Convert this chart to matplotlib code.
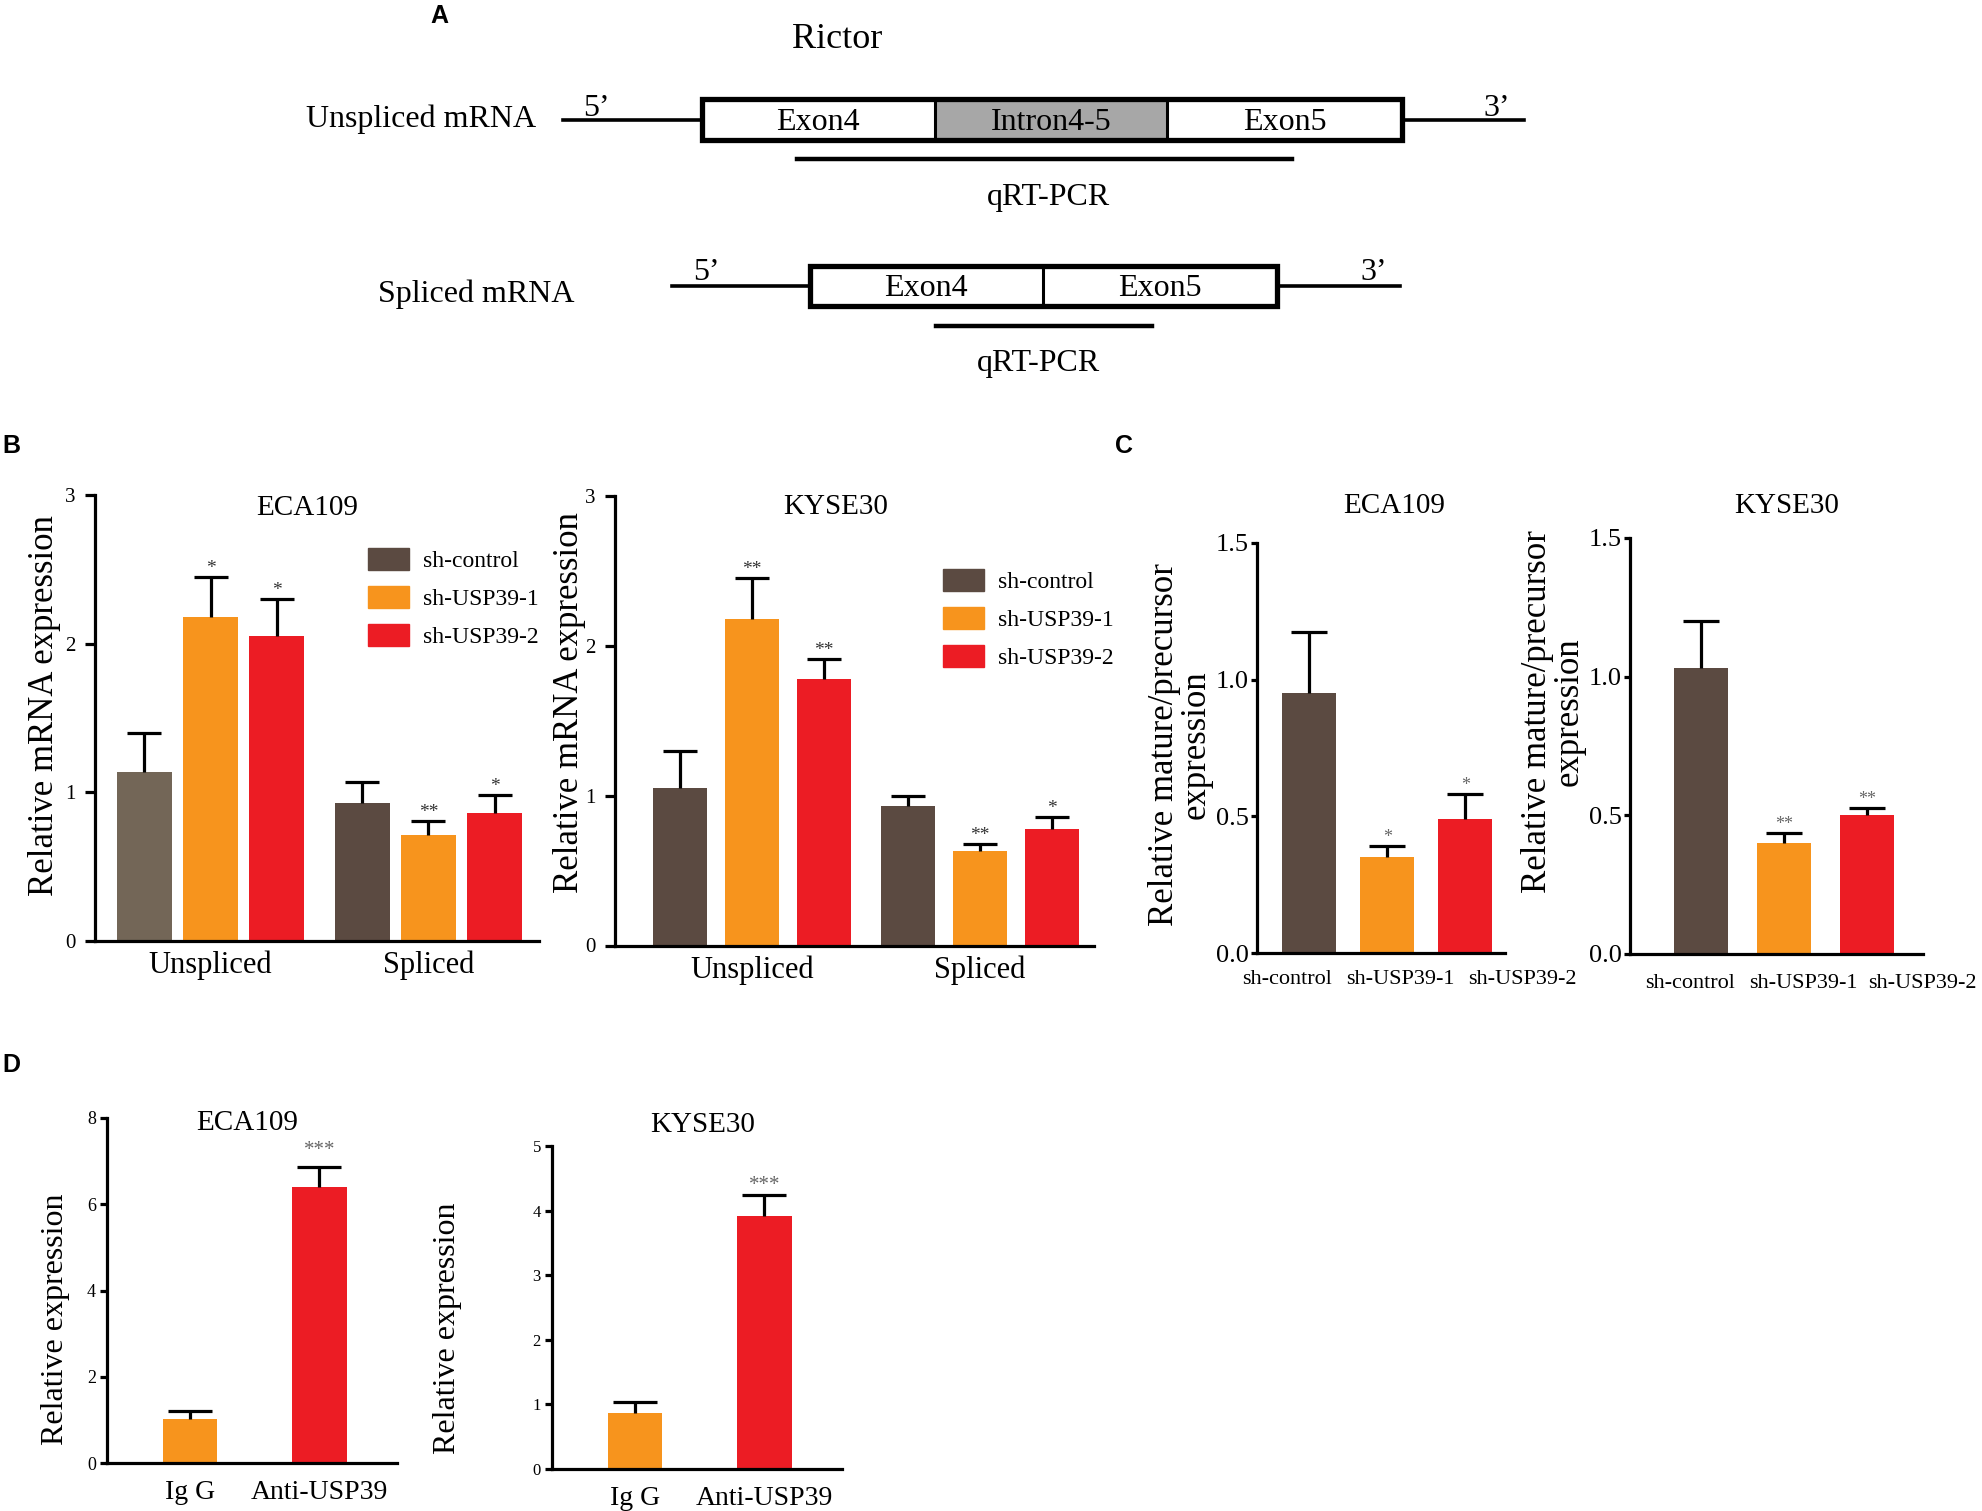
import numpy as np
import matplotlib
matplotlib.use('Agg')
import matplotlib.pyplot as plt
from matplotlib.patches import Rectangle, Patch

plt.rcParams['font.family'] = 'Liberation Serif'

W, H = 1982, 1511

brown = '#5b4a41'
brown_light = '#736657'
orange = '#f7941d'
red = '#ec1c24'

# ---- data ----
groups = ['sh-control', 'sh-USP39-1', 'sh-USP39-2']
b_cats = ['Unspliced', 'Spliced']

# panel B, rows = Unspliced / Spliced, cols = groups
b_eca_mean = [[1.14, 2.18, 2.05], [0.93, 0.71, 0.86]]
b_eca_err = [[0.26, 0.27, 0.25], [0.14, 0.10, 0.12]]
b_eca_sig = [['', '*', '*'], ['', '**', '*']]
b_kyse_mean = [[1.05, 2.18, 1.78], [0.93, 0.63, 0.78]]
b_kyse_err = [[0.25, 0.27, 0.13], [0.07, 0.045, 0.08]]
b_kyse_sig = [['', '**', '**'], ['', '**', '*']]

# panel C
c_eca_mean = [0.95, 0.35, 0.49]
c_eca_err = [0.225, 0.04, 0.09]
c_eca_sig = ['', '*', '*']
c_kyse_mean = [1.03, 0.40, 0.50]
c_kyse_err = [0.17, 0.037, 0.027]
c_kyse_sig = ['', '**', '**']

# panel D
d_cats = ['Ig G', 'Anti-USP39']
d_eca_mean = [1.02, 6.40]
d_eca_err = [0.19, 0.47]
d_kyse_mean = [0.87, 3.92]
d_kyse_err = [0.17, 0.32]
d_sig = ['', '***']

fig = plt.figure(figsize=(W / 100, H / 100), dpi=100)

# overlay in pixel coordinates for the schematic and free text
ov = fig.add_axes([0, 0, 1, 1])
ov.set_xlim(0, W)
ov.set_ylim(H, 0)
ov.axis('off')


def px_axes(l, t, r, b):
    ax = fig.add_axes([l / W, 1 - b / H, (r - l) / W, (b - t) / H])
    ax.patch.set_alpha(0)
    for s in ['top', 'right']:
        ax.spines[s].set_visible(False)
    for s in ['left', 'bottom']:
        ax.spines[s].set_linewidth(2.3)
    return ax


def draw_bars(ax, x, means, errs, colors, width, sig, capsize, sig_fs=14,
              sig_color='#333333', sig_dy=0):
    ax.bar(x, means, width, color=colors, zorder=2)
    _, caps, _ = ax.errorbar(x, means, yerr=[np.zeros(len(means)), errs], fmt='none',
                             ecolor='black', elinewidth=2.3, capsize=capsize,
                             capthick=2.3, zorder=3)
    # only the upper cap is drawn in the original
    caps[0].set_visible(False)
    for xi, m, e, s in zip(x, means, errs, sig):
        if s:
            ax.annotate(s, (xi, m + e), xytext=(0, sig_dy),
                        textcoords='offset points', ha='center', va='bottom',
                        fontsize=sig_fs, color=sig_color)


# ---- panel A: schematic ----
lw_box = 3.8
# unspliced
ov.plot([563, 702], [120, 120], color='black', lw=2.6)
ov.plot([1402, 1524], [120, 120], color='black', lw=2.6)
ov.add_patch(Rectangle((935, 99), 232, 41, facecolor='#a7a7a7', edgecolor='none'))
ov.add_patch(Rectangle((702, 99), 700, 41, facecolor='none', edgecolor='black', lw=lw_box))
ov.plot([935, 935], [99, 140], color='black', lw=2.2)
ov.plot([1167, 1167], [99, 140], color='black', lw=2.2)
ov.plot([797, 1292], [159, 159], color='black', lw=3.2)
# spliced
ov.plot([672, 810], [286, 286], color='black', lw=2.6)
ov.plot([1277, 1400], [286, 286], color='black', lw=2.6)
ov.add_patch(Rectangle((810, 266), 467, 40, facecolor='none', edgecolor='black', lw=lw_box))
ov.plot([1043, 1043], [266, 306], color='black', lw=2.2)
ov.plot([936, 1152], [326, 326], color='black', lw=3.2)

dfs = 23
ov.text(837, 40, 'Rictor', fontsize=26, ha='center', va='center')
ov.text(421, 119, 'Unspliced mRNA', fontsize=dfs, ha='center', va='center')
ov.text(476, 294, 'Spliced mRNA', fontsize=dfs, ha='center', va='center')
ov.text(818, 123, 'Exon4', fontsize=dfs, ha='center', va='center')
ov.text(1051, 123, 'Intron4-5', fontsize=dfs, ha='center', va='center')
ov.text(1285, 123, 'Exon5', fontsize=dfs, ha='center', va='center')
ov.text(926, 289, 'Exon4', fontsize=dfs, ha='center', va='center')
ov.text(1160, 289, 'Exon5', fontsize=dfs, ha='center', va='center')
ov.text(1048, 197, 'qRT-PCR', fontsize=dfs, ha='center', va='center')
ov.text(1038, 364, 'qRT-PCR', fontsize=dfs, ha='center', va='center')
ov.text(596, 108, '5\u2019', fontsize=dfs, ha='center', va='center')
ov.text(1497, 108, '3\u2019', fontsize=dfs, ha='center', va='center')
ov.text(706, 272, '5\u2019', fontsize=dfs, ha='center', va='center')
ov.text(1374, 272, '3\u2019', fontsize=dfs, ha='center', va='center')

# panel letters
for lab, x, y in [('A', 430, 16), ('B', 2, 446), ('C', 1115, 446), ('D', 2, 1065)]:
    ov.text(x, y, lab, fontsize=18, fontweight='bold', family='Liberation Sans',
            ha='left', va='center')

# ---- panel B ----
legend_handles = [Patch(color=c) for c in [brown, orange, red]]


def panel_b(box, means, errs, sig, first_colors, d, width, xlim, ylab_xy, legend_xy):
    ax = px_axes(*box)
    means = np.array(means)
    errs = np.array(errs)
    x = np.arange(len(b_cats))
    cols = [first_colors, orange, red]
    for k in range(3):
        draw_bars(ax, x + (k - 1) * d, means[:, k], errs[:, k], cols[k], width,
                  [s[k] for s in sig], capsize=12)
    ax.set_xlim(*xlim)
    ax.set_ylim(0, 3)
    ax.set_yticks([0, 1, 2, 3])
    ax.tick_params(axis='y', direction='out', length=7, width=2.3, labelsize=15, pad=7)
    ax.set_xticks(x, b_cats)
    ax.tick_params(axis='x', length=0, labelsize=22, pad=7)
    ax.legend(legend_handles, groups, loc='upper left',
              bbox_to_anchor=(legend_xy[0] / W, 1 - legend_xy[1] / H),
              bbox_transform=fig.transFigure, frameon=False, fontsize=17,
              handlelength=1.75, handleheight=1.05, labelspacing=0.6,
              handletextpad=0.6, borderpad=0, borderaxespad=0)
    ov.text(*ylab_xy, 'Relative mRNA expression', rotation=90, fontsize=25,
            ha='center', va='center')
    return ax


panel_b((95, 495, 539, 941), b_eca_mean, b_eca_err, b_eca_sig,
        [brown_light, brown], 0.303, 0.25, (-0.53, 1.507), (45, 706), (368, 548))
ov.text(307, 508, 'ECA109', fontsize=21, ha='center', va='center')
panel_b((615, 496, 1094, 945.5), b_kyse_mean, b_kyse_err, b_kyse_sig,
        [brown, brown], 0.316, 0.237, (-0.60, 1.50), (570, 703), (943, 569))
ov.text(836, 507, 'KYSE30', fontsize=21, ha='center', va='center')

# ---- panel C ----


def panel_c(box, means, errs, sig, width, xlim, label_px, label_y, ylab_xy):
    ax = px_axes(*box)
    x = np.arange(len(groups))
    draw_bars(ax, x, means, errs, [brown, orange, red], width, sig, capsize=13,
              sig_fs=13, sig_color='#666666')
    ax.set_xlim(*xlim)
    ax.set_ylim(0, 1.5)
    ax.set_yticks([0, 0.5, 1.0, 1.5], ['0.0', '0.5', '1.0', '1.5'])
    ax.tick_params(axis='y', direction='out', length=4, width=2.3, labelsize=19, pad=2)
    ax.set_xticks([])
    for lab, lx in zip(groups, label_px):
        ov.text(lx, label_y, lab, fontsize=16, ha='center', va='center')
    ov.text(*ylab_xy, 'Relative mature/precursor\nexpression', rotation=90,
            fontsize=25, ha='center', va='center', linespacing=0.95)
    return ax


panel_c((1257, 543, 1505, 953), c_eca_mean, c_eca_err, c_eca_sig, 0.69,
        (-0.667, 2.51), [1287, 1400, 1522], 979, (1180, 745))
ov.text(1394, 506, 'ECA109', fontsize=21, ha='center', va='center')
panel_c((1630, 538, 1923, 954), c_kyse_mean, c_kyse_err, c_kyse_sig, 0.65,
        (-0.855, 2.675), [1690, 1803, 1922], 984, (1553, 712))
ov.text(1787, 506, 'KYSE30', fontsize=21, ha='center', va='center')

# ---- panel D ----


def panel_d(box, means, errs, ymax, tick_fs, ylab_xy, sig_dy):
    ax = px_axes(*box)
    x = np.arange(len(d_cats))
    draw_bars(ax, x, means, errs, [orange, red], 0.42, d_sig, capsize=16,
              sig_fs=15, sig_color='#666666', sig_dy=sig_dy)
    ax.set_xlim(-0.644, 1.60)
    ax.set_ylim(0, ymax)
    ax.tick_params(axis='y', direction='out', length=5, width=2.3, labelsize=tick_fs, pad=3)
    ax.set_xticks(x, d_cats)
    ax.tick_params(axis='x', length=0, labelsize=20, pad=12)
    ov.text(*ylab_xy, 'Relative expression', rotation=90, fontsize=23,
            ha='center', va='center')
    return ax


ax = panel_d((107, 1118, 397, 1463), d_eca_mean, d_eca_err, 8, 13, (55, 1319), 5)
ax.set_yticks([0, 2, 4, 6, 8])
ov.text(247, 1123, 'ECA109', fontsize=21, ha='center', va='center')
ax = panel_d((552, 1146, 842, 1469), d_kyse_mean, d_kyse_err, 5, 12, (448, 1328), 0)
ax.set_yticks([0, 1, 2, 3, 4, 5])
ov.text(703, 1125, 'KYSE30', fontsize=21, ha='center', va='center')

fig.savefig('out.png', dpi=100)
